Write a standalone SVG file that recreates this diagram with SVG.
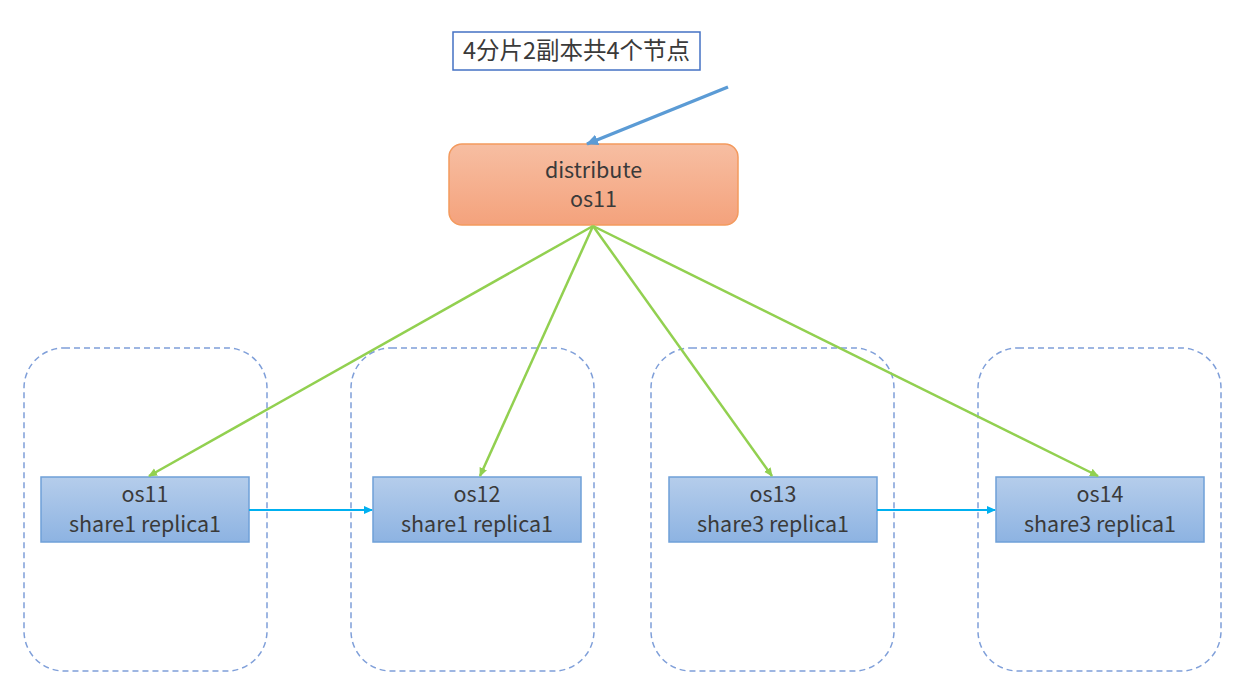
<svg xmlns="http://www.w3.org/2000/svg" width="1253" height="697" viewBox="0 0 1253 697">
<defs>
<linearGradient id="gOrange" x1="0" y1="0" x2="0" y2="1">
<stop offset="0" stop-color="#F7BEA2"/>
<stop offset="1" stop-color="#F4A27C"/>
</linearGradient>
<linearGradient id="gBlue" x1="0" y1="0" x2="0" y2="1">
<stop offset="0" stop-color="#B5CDEB"/>
<stop offset="1" stop-color="#8DB3E2"/>
</linearGradient>
<marker id="mGreen" markerWidth="10" markerHeight="10" refX="8" refY="5" orient="auto" markerUnits="userSpaceOnUse">
<path d="M0,1 L9,5 L0,9 Z" fill="#92D050"/>
</marker>
<marker id="mCyan" markerWidth="10" markerHeight="10" refX="8" refY="5" orient="auto" markerUnits="userSpaceOnUse">
<path d="M0,1 L9,5 L0,9 Z" fill="#00B0F0"/>
</marker>
<marker id="mBlue" markerWidth="14" markerHeight="14" refX="11" refY="7" orient="auto" markerUnits="userSpaceOnUse">
<path d="M0,1.5 L12,7 L0,12.5 Z" fill="#5B9BD5"/>
</marker>
</defs>
<style>
text{font-family:"Noto Sans CJK SC","Noto Sans",sans-serif;font-size:21.5px;fill:#3a3a3a;text-anchor:middle}
.cjk{font-size:23.5px}
.grp{fill:none;stroke:#7F9FD9;stroke-width:1.5;stroke-dasharray:6 4}
.node{fill:url(#gBlue);stroke:#6FA0D8;stroke-width:1.5}
.g{stroke:#92D050;stroke-width:2.5;fill:none}
.c{stroke:#00B0F0;stroke-width:2;fill:none}
</style>
<rect width="1253" height="697" fill="#fff"/>
<g id="groups">
<rect class="grp" x="24" y="348" width="243" height="323" rx="40"/>
<rect class="grp" x="351" y="348" width="243" height="323" rx="40"/>
<rect class="grp" x="651" y="348" width="243" height="323" rx="40"/>
<rect class="grp" x="978" y="348" width="243" height="323" rx="40"/>
</g>
<g id="label">
<rect x="453" y="32" width="247" height="38" fill="#fff" stroke="#4472C4" stroke-width="1.5"/>
<text class="cjk" x="576.5" y="59">4分片2副本共4个节点</text>
</g>
<g id="distribute">
<rect x="449" y="144" width="289" height="81" rx="13" fill="url(#gOrange)" stroke="#F39A5E" stroke-width="1.5"/>
<text x="593.5" y="178">distribute</text>
<text x="593.5" y="207">os11</text>
</g>
<g id="os11">
<rect class="node" x="41" y="477" width="208" height="65"/>
<text x="145" y="502">os11</text>
<text x="145" y="532">share1 replica1</text>
</g>
<g id="os12">
<rect class="node" x="373" y="477" width="208" height="65"/>
<text x="477" y="502">os12</text>
<text x="477" y="532">share1 replica1</text>
</g>
<g id="os13">
<rect class="node" x="669" y="477" width="208" height="65"/>
<text x="773" y="502">os13</text>
<text x="773" y="532">share3 replica1</text>
</g>
<g id="os14">
<rect class="node" x="996" y="477" width="208" height="65"/>
<text x="1100" y="502">os14</text>
<text x="1100" y="532">share3 replica1</text>
</g>
<g id="connectors">
<line x1="728" y1="87" x2="587" y2="144" stroke="#5B9BD5" stroke-width="3.5" marker-end="url(#mBlue)"/>
<line class="g" x1="593" y1="226" x2="149" y2="476" marker-end="url(#mGreen)"/>
<line class="g" x1="593" y1="226" x2="480" y2="476" marker-end="url(#mGreen)"/>
<line class="g" x1="593" y1="226" x2="772" y2="476" marker-end="url(#mGreen)"/>
<line class="g" x1="593" y1="226" x2="1098" y2="476" marker-end="url(#mGreen)"/>
<line class="c" x1="249" y1="510" x2="372" y2="510" marker-end="url(#mCyan)"/>
<line class="c" x1="877" y1="510" x2="995" y2="510" marker-end="url(#mCyan)"/>
</g>
</svg>
